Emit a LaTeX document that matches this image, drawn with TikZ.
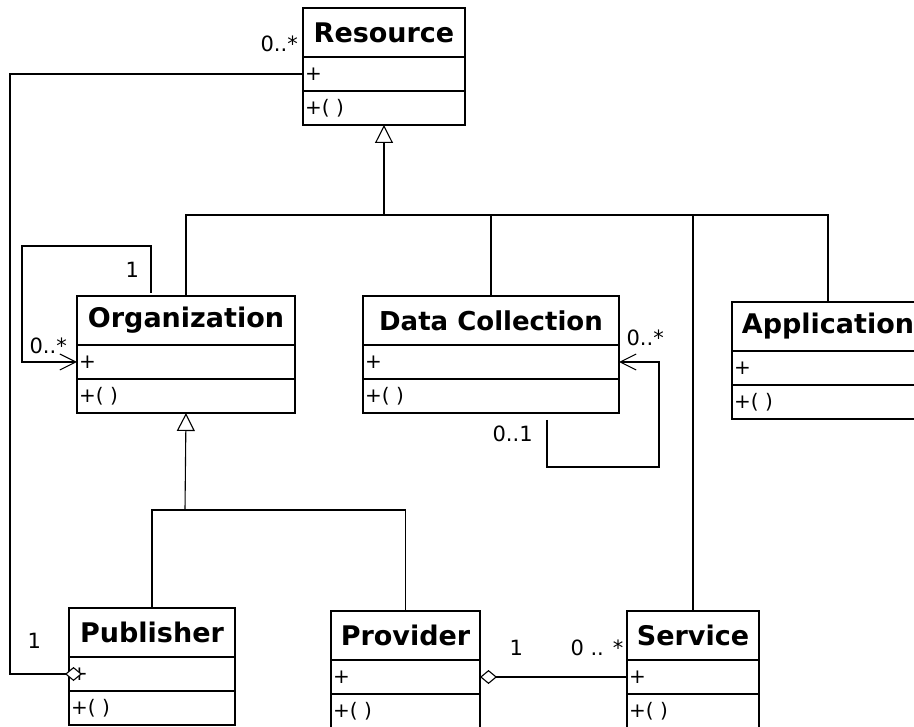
\documentclass[tikz,border=0pt]{standalone}
\usepackage{fontspec}
\setmainfont{DejaVu Sans}
\usetikzlibrary{positioning, arrows.meta, calc}
\tikzset{
  classname/.style={draw, anchor=north west, outer sep=0, minimum width=#1, minimum height=49, inner xsep=2, font=\fontsize{27}{30}\selectfont\bfseries},
  classrow/.style={draw, outer sep=0, minimum height=34, inner xsep=2, inner ysep=0, align=left, font=\fontsize{20}{22}\selectfont},
  mult/.style={anchor=base west, inner sep=0, font=\fontsize{21}{24}\selectfont},
  generalize/.style={-{Triangle[open, length=18, width=18]}},
  aggregate/.style={-{Diamond[fill=white, length=17, width=14]}},
  navigable/.style={-{Straight Barb[length=16, width=16]}}
}
\begin{document}
\begin{tikzpicture}[x=1pt, y=-1pt, line width=1.1pt]
    \clip (0,0) rectangle (914,727);
    \fill[white] (0,0) rectangle (914,727);
    \node[classname=162] (resource) at (303,8) {Resource};
    \node[classrow, text width=158, below=0 of resource] (resourceattr) {+};
    \node[classrow, text width=158, below=0 of resourceattr] (resourceops) {+( )};
    \node[classname=218] (organization) at (77,296) {Organization};
    \node[classrow, text width=214, below=0 of organization] (orgattr) {+};
    \node[classrow, text width=214, below=0 of orgattr] (orgops) {+( )};
    \node[classname=256, font=\fontsize{26}{30}\selectfont\bfseries] (datacollection) at (363,296) {Data Collection};
    \node[classrow, text width=252, below=0 of datacollection] (dcattr) {+};
    \node[classrow, text width=252, below=0 of dcattr] (dcops) {+( )};
    \node[classname=192] (application) at (732,302) {Application};
    \node[classrow, text width=188, below=0 of application] (appattr) {+};
    \node[classrow, text width=188, below=0 of appattr] (appops) {+( )};
    \node[classname=166] (publisher) at (69,608) {Publisher};
    \node[classrow, text width=162, below=0 of publisher] (publisherattr) {+};
    \node[classrow, text width=162, below=0 of publisherattr] (publisherops) {+( )};
    \node[classname=149] (provider) at (331,611) {Provider};
    \node[classrow, text width=145, below=0 of provider] (providerattr) {+};
    \node[classrow, text width=145, below=0 of providerattr] (providerops) {+( )};
    \node[classname=132] (service) at (627,611) {Service};
    \node[classrow, text width=128, below=0 of service] (serviceattr) {+};
    \node[classrow, text width=128, below=0 of serviceattr] (serviceops) {+( )};
    \coordinate (genbar) at (384,215);
    \draw[generalize] (genbar) -- (resourceops.south);
    \draw (organization.north) |- (genbar) -| (application.north);
    \draw (datacollection.north) -- (datacollection.north |- genbar);
    \draw (service.north) -- (service.north |- genbar);
    \coordinate (orgbar) at (185,510);
    \draw[generalize] (orgbar) -- (orgops.south);
    \draw (publisher.north) |- (orgbar) -| (provider.north);
    \coordinate (leftrail) at (10,400);
    \draw[aggregate, shorten >=-13] (resourceattr.west) -| (leftrail) |- (publisherattr.west);
    \coordinate (orgloop) at (151,293);
    \coordinate (orgcorner) at (22,246);
    \draw[navigable] (orgloop) |- (orgcorner) |- (orgattr.west);
    \coordinate (dcloop) at (547,420);
    \coordinate (dccorner) at (659,467);
    \draw[navigable] (dcloop) |- (dccorner) |- (dcattr.east);
    \draw[aggregate] (serviceattr.west) -- (providerattr.east);
    \node[mult] (resmult) at (260,52) {0..*};
    \node[mult] (pubmult) at (27,648) {1};
    \node[mult] (orgmultone) at (125,278) {1};
    \node[mult] (orgmultmany) at (29,354) {0..*};
    \node[mult] (dcmultone) at (492,442) {0..1};
    \node[mult] (dcmultmany) at (626,346) {0..*};
    \node[mult] (provmult) at (509,655) {1};
    \node[mult] (servmult) at (570,655) {0 .. *};
\end{tikzpicture}
\end{document}
